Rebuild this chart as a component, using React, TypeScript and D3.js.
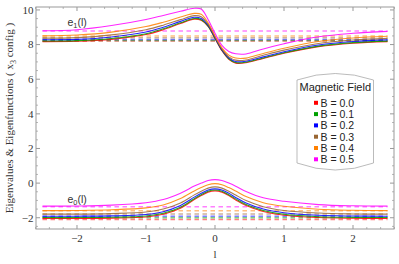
import React from "react";
import * as d3 from "d3";

const W = 399;
const H = 264;

const lGrid = [-2.5, -2, -1.5, -1, -0.75, -0.5, -0.3, -0.2, -0.1, 0, 0.1, 0.2, 0.3, 0.45, 0.7, 1, 1.5, 2, 2.5];

const bLabels = ["B = 0.0", "B = 0.1", "B = 0.2", "B = 0.3", "B = 0.4", "B = 0.5"];
const colors = ["#ff0000", "#00a000", "#0000ff", "#996633", "#ff8000", "#ff00ff"];

// e1(l) curves
const e1B0 = [8.17, 8.19, 8.3, 8.58, 8.86, 9.22, 9.47, 9.4, 9.05, 8.35, 7.65, 7.15, 6.93, 6.95, 7.2, 7.5, 7.88, 8.08, 8.17];
const e1B1 = [8.21, 8.23, 8.35, 8.63, 8.91, 9.26, 9.51, 9.44, 9.07, 8.37, 7.67, 7.18, 6.96, 6.98, 7.23, 7.53, 7.91, 8.11, 8.2];
const e1B2 = [8.28, 8.3, 8.44, 8.73, 9.0, 9.34, 9.58, 9.51, 9.12, 8.4, 7.7, 7.23, 7.02, 7.04, 7.29, 7.59, 7.98, 8.18, 8.27];
const e1B3 = [8.37, 8.4, 8.56, 8.86, 9.12, 9.44, 9.67, 9.61, 9.18, 8.45, 7.75, 7.29, 7.1, 7.11, 7.38, 7.68, 8.06, 8.26, 8.36];
const e1B4 = [8.5, 8.55, 8.72, 9.04, 9.29, 9.59, 9.8, 9.75, 9.26, 8.51, 7.81, 7.39, 7.22, 7.22, 7.49, 7.79, 8.18, 8.38, 8.48];
const e1B5 = [8.8, 8.86, 9.1, 9.45, 9.68, 9.92, 10.1, 10.05, 9.45, 8.65, 7.95, 7.6, 7.47, 7.46, 7.75, 8.05, 8.45, 8.65, 8.76];

// e0(l) curves
const e0B0 = [-2.04, -2.04, -2.02, -1.96, -1.8, -1.45, -0.95, -0.72, -0.52, -0.45, -0.52, -0.72, -0.97, -1.3, -1.64, -1.86, -1.99, -2.03, -2.04];
const e0B1 = [-1.99, -1.99, -1.97, -1.9, -1.74, -1.39, -0.9, -0.67, -0.47, -0.4, -0.47, -0.67, -0.91, -1.24, -1.58, -1.8, -1.94, -1.98, -1.99];
const e0B2 = [-1.91, -1.91, -1.89, -1.81, -1.65, -1.29, -0.81, -0.59, -0.4, -0.33, -0.4, -0.59, -0.83, -1.15, -1.5, -1.71, -1.86, -1.9, -1.91];
const e0B3 = [-1.79, -1.79, -1.76, -1.67, -1.5, -1.15, -0.68, -0.47, -0.29, -0.22, -0.29, -0.47, -0.69, -1.01, -1.36, -1.58, -1.73, -1.78, -1.79];
const e0B4 = [-1.59, -1.58, -1.54, -1.43, -1.26, -0.89, -0.45, -0.26, -0.09, -0.03, -0.09, -0.26, -0.46, -0.78, -1.13, -1.34, -1.51, -1.57, -1.59];
const e0B5 = [-1.33, -1.32, -1.27, -1.13, -0.95, -0.58, -0.17, 0.0, 0.15, 0.2, 0.15, 0.0, -0.18, -0.48, -0.85, -1.05, -1.24, -1.31, -1.33];

// asymptotic (dashed) levels
const e1Asym = [8.2, 8.23, 8.3, 8.39, 8.5, 8.79];
const e0Asym = [-2.1, -2.0, -1.91, -1.79, -1.6, -1.37];

const xTicks = [-2, -1, 0, 1, 2];
const yTicks = [-2, 0, 2, 4, 6, 8, 10];

const e1Series = [e1B0, e1B1, e1B2, e1B3, e1B4, e1B5];
const e0Series = [e0B0, e0B1, e0B2, e0B3, e0B4, e0B5];

const SERIF = "'Liberation Serif', 'Times New Roman', serif";
const SANS = "'Liberation Sans', Arial, sans-serif";

export default function App() {
  const left = 36, right = 394, top = 7, bottom = 229;
  const x = d3.scaleLinear().domain([-2.594, 2.594]).range([left, right]);
  const y = d3.scaleLinear().domain([-2.65, 10.17]).range([bottom, top]);

  const line = d3
    .line<number>()
    .x((_, i) => x(lGrid[i]))
    .y((d) => y(d))
    .curve(d3.curveCatmullRom.alpha(0.5));

  const minorX = d3.range(-2.6, 2.61, 0.2).map((v) => Math.round(v * 10) / 10).filter((v) => Math.abs(v - Math.round(v)) > 1e-6);
  const minorY = d3.range(-2.5, 10.1, 0.5).filter((v) => Math.abs(v / 2 - Math.round(v / 2)) > 1e-6);

  const frameColor = "#999";
  const lx0 = x(lGrid[0]);
  const lx1 = x(lGrid[lGrid.length - 1]);

  // legend box geometry
  const lgL = 297, lgR = 373.5, lgT = 80, lgB = 163;
  const lgMid = (lgL + lgR) / 2;
  const legendPath = `M${lgL},${lgT} Q${lgMid},${lgT - 13} ${lgR},${lgT} L${lgR},${lgB} Q${lgMid},${lgB + 14} ${lgL},${lgB} Z`;

  return (
    <svg width={W} height={H} style={{ position: "absolute", left: 0, top: 0, background: "#fff" }}>
      <rect x={0} y={0} width={W} height={H} fill="#fff" />
      <defs>
        <clipPath id="plotclip">
          <rect x={left} y={top} width={right - left} height={bottom - top} />
        </clipPath>
      </defs>

      <g clipPath="url(#plotclip)">
        {/* dashed asymptotes */}
        {e1Asym.map((v, i) => (
          <line key={"d1" + i} x1={lx0} x2={lx1} y1={y(v)} y2={y(v)} stroke={colors[i]} strokeWidth={1.5} strokeOpacity={0.5} strokeDasharray="4.5,3.5" />
        ))}
        {e0Asym.map((v, i) => (
          <line key={"d0" + i} x1={lx0} x2={lx1} y1={y(v)} y2={y(v)} stroke={colors[i]} strokeWidth={1.5} strokeOpacity={0.5} strokeDasharray="4.5,3.5" />
        ))}
        {/* solid curves */}
        {e1Series.map((s, i) => (
          <path key={"s1" + i} d={line(s) || ""} fill="none" stroke={colors[i]} strokeWidth={1.1} strokeOpacity={0.85} />
        ))}
        {e0Series.map((s, i) => (
          <path key={"s0" + i} d={line(s) || ""} fill="none" stroke={colors[i]} strokeWidth={1.1} strokeOpacity={0.85} />
        ))}
      </g>

      {/* frame */}
      <rect x={left} y={top} width={right - left} height={bottom - top} fill="none" stroke={frameColor} strokeWidth={1} />

      {/* ticks */}
      {xTicks.map((t) => (
        <g key={"xt" + t}>
          <line x1={x(t)} x2={x(t)} y1={bottom} y2={bottom - 4} stroke={frameColor} />
          <line x1={x(t)} x2={x(t)} y1={top} y2={top + 4} stroke={frameColor} />
          <text x={x(t)} y={242} textAnchor="middle" fontFamily={SERIF} fontSize={11} fill="#333">
            {t < 0 ? "\u2212" + Math.abs(t) : String(t)}
          </text>
        </g>
      ))}
      {minorX.map((t) => (
        <g key={"xm" + t}>
          <line x1={x(t)} x2={x(t)} y1={bottom} y2={bottom - 2} stroke={frameColor} strokeWidth={0.7} />
          <line x1={x(t)} x2={x(t)} y1={top} y2={top + 2} stroke={frameColor} strokeWidth={0.7} />
        </g>
      ))}
      {yTicks.map((t) => (
        <g key={"yt" + t}>
          <line x1={left} x2={left + 4} y1={y(t)} y2={y(t)} stroke={frameColor} />
          <line x1={right} x2={right - 4} y1={y(t)} y2={y(t)} stroke={frameColor} />
          <text x={33.5} y={y(t) + 3.8} textAnchor="end" fontFamily={SERIF} fontSize={11} fill="#333">
            {t < 0 ? "\u2212" + Math.abs(t) : String(t)}
          </text>
        </g>
      ))}
      {minorY.map((t) => (
        <g key={"ym" + t}>
          <line x1={left} x2={left + 2} y1={y(t)} y2={y(t)} stroke={frameColor} strokeWidth={0.7} />
          <line x1={right} x2={right - 2} y1={y(t)} y2={y(t)} stroke={frameColor} strokeWidth={0.7} />
        </g>
      ))}

      {/* axis labels */}
      <text x={215} y={258} textAnchor="middle" fontFamily={SERIF} fontSize={11} fill="#333">l</text>
      <text transform={`translate(13,118) rotate(-90)`} textAnchor="middle" fontFamily={SERIF} fontSize={11} fill="#333">
        Eigenvalues &amp; Eigenfunctions ( x<tspan fontSize={8} dy={2.5}>3</tspan><tspan dy={-2.5}> config )</tspan>
      </text>

      {/* curve labels */}
      <text x={67.5} y={26} fontFamily={SANS} fontSize={10.5} fill="#333">
        e<tspan fontSize={7.5} dy={2}>1</tspan><tspan dy={-2}>(l)</tspan>
      </text>
      <text x={67.5} y={203} fontFamily={SANS} fontSize={10.5} fill="#333">
        e<tspan fontSize={7.5} dy={2}>0</tspan><tspan dy={-2}>(l)</tspan>
      </text>

      {/* legend */}
      <path d={legendPath} fill="#fff" stroke="#aaa" strokeWidth={0.8} />
      <text x={lgMid} y={90.5} textAnchor="middle" fontFamily={SANS} fontSize={11} fill="#222">Magnetic Field</text>
      {bLabels.map((lab, i) => (
        <g key={"lg" + i} transform={`translate(0,${102.8 + i * 11.3})`}>
          <rect x={314} y={-2} width={4} height={4} fill={colors[i]} />
          <text x={320.5} y={3.8} fontFamily={SANS} fontSize={10.5} fill="#222">{lab}</text>
        </g>
      ))}
    </svg>
  );
}
